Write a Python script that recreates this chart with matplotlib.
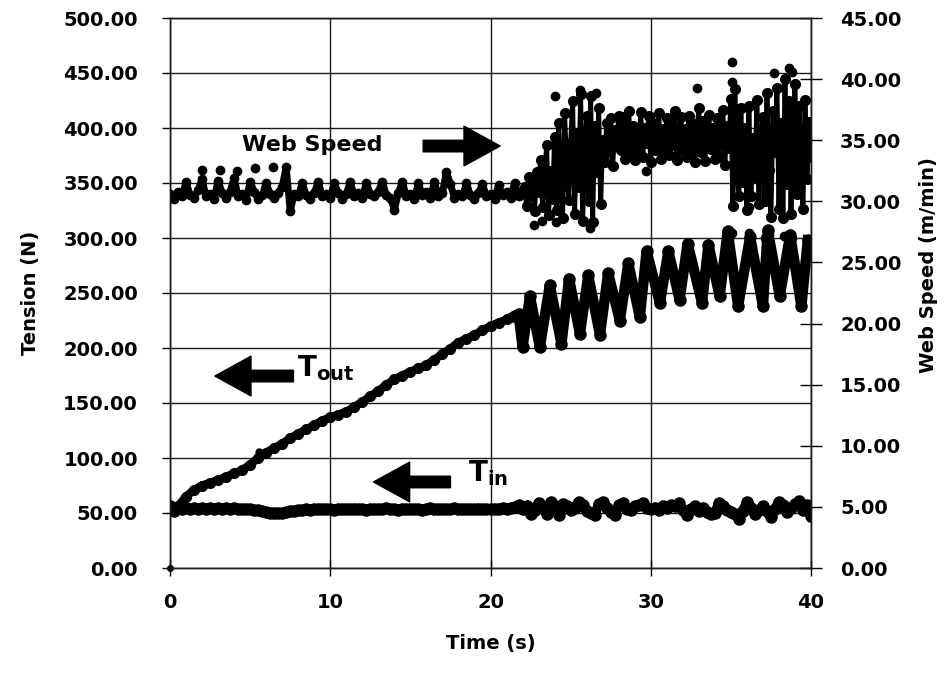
import numpy as np
import matplotlib
matplotlib.use('Agg')
import matplotlib.pyplot as plt
from matplotlib.patches import ArrowStyle

# web speed (m/min), 0-22 s every 0.25 s
ws_early = [30.6, 30.2, 30.8, 30.4, 31.6, 30.5, 30.3, 30.9, 31.8, 30.4, 30.6, 30.2,
            31.7, 30.7, 30.3, 30.8, 31.9, 30.4, 30.6, 30.1, 31.6, 30.8, 30.2, 30.5,
            31.5, 30.6, 30.3, 30.7, 31.2, 32.8, 29.2, 30.6, 30.4, 31.5, 30.5, 30.2,
            30.7, 31.6, 30.4, 30.6, 30.3, 31.5, 30.7, 30.2, 30.6, 31.6, 30.4, 30.7,
            30.3, 31.5, 30.6, 30.4, 30.8, 31.6, 30.5, 30.3, 29.3, 30.7, 31.6, 30.4,
            30.6, 30.2, 31.5, 30.5, 30.8, 30.3, 31.6, 30.4, 30.7, 32.4, 31.4, 30.3,
            30.6, 30.4, 31.5, 30.5, 30.2, 30.7, 31.4, 30.4, 30.6, 30.2, 31.3, 30.5,
            30.8, 30.3, 31.5, 30.4, 30.9]
# web speed (m/min), 22.125-40 s every 0.125 s
ws_late = [31.2, 29.6, 32.0, 30.4, 31.6, 29.2, 32.4, 30.8,
           33.4, 29.5, 31.8, 34.6, 28.9, 32.5, 30.2, 35.3,
           29.3, 36.4, 31.5, 28.6, 37.2, 33.0, 30.1, 34.8,
           38.2, 29.0, 35.6, 31.2, 38.8, 28.4, 33.7, 37.0,
           30.0, 38.6, 28.3, 36.2, 32.4, 37.6, 29.8, 35.0,
           33.2, 36.4, 34.0, 36.8, 32.9, 35.8, 34.5, 37.0,
           34.2, 36.9, 33.5, 35.6, 37.4, 34.0, 36.2, 33.4,
           35.8, 34.0, 37.3, 33.6, 36.0, 34.8, 37.0, 33.2,
           36.4, 34.2, 35.5, 37.2, 33.5, 35.9, 34.0, 36.8,
           33.8, 36.5, 34.6, 37.4, 33.4, 35.2, 36.9, 34.1,
           35.9, 33.6, 37.0, 34.4, 36.3, 33.2, 35.6, 37.6,
           34.0, 36.6, 33.3, 35.4, 37.1, 34.3, 36.0, 33.5,
           36.8, 33.6, 35.7, 37.5, 33.0, 36.2, 34.4, 38.4,
           29.6, 39.2, 33.0, 30.4, 37.6, 31.6, 36.0, 29.3,
           37.8, 30.4, 35.2, 32.0, 38.3, 29.8, 34.6, 36.9,
           30.0, 38.9, 32.6, 28.7, 37.4, 34.0, 39.3, 29.4,
           36.4, 28.6, 40.0, 31.4, 38.2, 29.0, 35.3, 39.6,
           30.6, 37.8, 33.0, 29.4, 38.3, 31.8, 36.5, 33.6]
# isolated web speed dots (time s, m/min)
ws_dot_t = [1.98, 3.1, 4.16, 5.3, 6.45, 22.7, 23.2, 24.1, 26.2, 24.0, 25.6, 26.6,
            29.7, 32.9, 35.1, 35.05, 37.7, 38.6, 38.8, 35.1, 36.1, 37.1, 37.4,
            38.3, 38.8, 36.1, 36.1]
ws_dot_v = [32.6, 32.6, 32.5, 32.7, 32.8, 28.1, 28.4, 28.3, 27.8, 38.6, 39.1, 38.9,
            32.5, 39.3, 41.4, 39.8, 40.5, 40.9, 40.6, 27.4, 27.4, 27.0, 27.3,
            27.2, 27.0, 29.5, 30.6]

# T_in (N), 0-22 s every 0.25 s
tin_early = [56.0, 51.5, 55.0, 53.5, 54.5, 53.8, 54.6, 53.6, 54.4, 53.9, 54.7, 53.7,
             54.5, 53.8, 54.3, 53.6, 54.4, 53.7, 54.0, 53.2, 53.6, 52.8, 52.6, 51.8,
             51.2, 50.4, 50.0, 49.6, 50.2, 50.6, 51.4, 52.0, 52.6, 53.0, 53.4, 53.0,
             53.6, 53.2, 53.8, 53.3, 53.7, 53.1, 53.9, 53.4, 53.8, 53.2, 54.0, 53.5,
             53.6, 53.0, 53.9, 53.3, 53.8, 53.4, 54.1, 53.2, 53.7, 53.1, 54.0, 53.5,
             53.9, 53.3, 53.8, 53.0, 53.6, 54.2, 53.4, 53.9, 53.2, 53.8, 53.5, 54.1,
             53.4, 53.9, 53.2, 53.7, 53.5, 54.0, 53.3, 53.8, 53.4, 53.9, 53.6, 54.2,
             53.5, 54.4, 55.5, 57.0, 54.0]
# T_in (N), 22.25-40 s every 0.25 s
tin_late = [56, 49, 53, 59, 55, 49, 60, 56, 48, 58, 56, 53, 55, 60, 57, 52,
            50, 48, 58, 60, 55, 51, 48, 57, 59, 54, 53, 56, 57, 59, 55, 54,
            55, 53, 56, 55, 57, 56, 59, 53, 48, 54, 56, 52, 55, 51, 49, 50,
            59, 56, 53, 51, 49, 45, 52, 60, 55, 49, 53, 56, 52, 46, 54, 60,
            57, 51, 55, 58, 61, 53, 57, 47]

# T_out (N), ramp 0-21.5 s every 0.5 s
tout_ramp = [54, 56, 65, 71, 75, 77.5, 80, 83, 86, 89, 94, 100, 105, 109, 113, 118,
             122, 126, 130, 134, 137, 139.5, 142, 146.5, 151, 156, 161, 166.5, 171.5,
             175, 178.5, 181.5, 184.5, 189.5, 194.5, 199.5, 205, 208.5, 212, 216,
             220, 223, 226, 229]
# T_out (N), oscillating part: peaks and troughs
tout_osc_t = [21.5, 21.75, 22.0, 22.46, 23.08, 23.7, 24.43, 24.9, 25.58, 26.1, 26.83,
              27.34, 28.07, 28.6, 29.32, 29.74, 30.57, 31.1, 31.8, 32.3, 33.2, 33.6,
              34.3, 34.8, 35.45, 36.2, 37.0, 37.3, 38.05, 38.7, 39.4, 39.8]
tout_osc = [229, 231, 201, 247, 201, 257, 204, 263, 213, 266, 212, 268, 225, 277,
            228, 288, 241, 288, 244, 295, 241, 294, 247, 306, 238, 301, 238, 307,
            247, 303, 238, 298]

plt.rcParams['font.family'] = 'DejaVu Sans'
plt.rcParams['font.weight'] = 'bold'
plt.rcParams['mathtext.fontset'] = 'dejavusans'

fig = plt.figure(figsize=(9.5, 6.78), dpi=100)
ax = fig.add_axes([170/950, 1-568/678, 641/950, 550/678])
ax2 = ax.twinx()

k = 'black'
ax.plot(np.linspace(0, 22, len(tin_early)), tin_early, '-o', color=k, lw=7, ms=8)
ax.plot(np.linspace(22.25, 40, len(tin_late)), tin_late, '-o', color=k, lw=7, ms=8)
ax.plot(np.linspace(0, 21.5, len(tout_ramp)), tout_ramp, '-o', color=k, lw=6, ms=7)
ax.plot(tout_osc_t, tout_osc, '-o', color=k, lw=7.5, ms=8)
ax.plot([5.57], [105.7], 'o', color=k, ms=5)
ax.plot([0], [0], 'o', color=k, ms=4, clip_on=False)

ax2.plot(np.linspace(0, 22, len(ws_early)), ws_early, '-o', color=k, lw=5, ms=6)
ax2.plot(np.linspace(22.125, 40, len(ws_late)), ws_late, '-o', color=k, lw=3.5, ms=7)
ax2.plot(ws_dot_t, ws_dot_v, 'o', color=k, ms=6, lw=0)

ax.set_xlim(0, 40)
ax.set_ylim(0, 500)
ax2.set_ylim(0, 45)
ax.set_xticks([0, 10, 20, 30, 40])
ax.set_yticks(np.arange(0, 501, 50))
ax2.set_yticks(np.arange(0, 46, 5))
ax.set_yticklabels(['%.2f' % v for v in np.arange(0, 501, 50)])
ax2.set_yticklabels(['%.2f' % v for v in np.arange(0, 46, 5)])
ax.grid(True, color='0.1', lw=1.0)
ax.set_axisbelow(True)

ax.tick_params(axis='y', direction='out', length=6, width=1, pad=17, labelsize=14)
ax.tick_params(axis='x', direction='inout', length=12, width=1, pad=12, labelsize=14)
ax2.tick_params(axis='y', direction='inout', length=16, width=1, pad=13, labelsize=14)
for a in (ax, ax2):
    for s in a.spines.values():
        s.set_linewidth(1.0)
        s.set_color('0.1')

ax.set_xlabel('Time (s)', fontsize=14, fontweight='bold', labelpad=16)
ax.set_ylabel('Tension (N)', fontsize=14, fontweight='bold', labelpad=17)
ax2.set_ylabel('Web Speed (m/min)', fontsize=14, fontweight='bold')
ax2.yaxis.set_label_coords(1.168, 0.55)

arrow = ArrowStyle.Simple(head_length=1.0, head_width=1.1, tail_width=0.32)
ap = dict(arrowstyle=arrow, color=k, mutation_scale=26, shrinkA=0, shrinkB=0)
ax.annotate('', xy=(20.6, 383.6), xytext=(15.8, 383.6), arrowprops=ap)
ax.annotate('', xy=(2.8, 174.5), xytext=(7.7, 174.5), arrowprops=ap)
ax.annotate('', xy=(12.7, 78.2), xytext=(17.5, 78.2), arrowprops=ap)

ax.text(4.5, 384.5, 'Web Speed', fontsize=16, fontweight='bold', va='center', ha='left')
ax.text(7.9, 174, r'$\mathbf{T_{out}}$', fontsize=20, va='baseline', ha='left')
ax.text(18.6, 79, r'$\mathbf{T_{in}}$', fontsize=20, va='baseline', ha='left')

fig.savefig('out.png', dpi=100)
